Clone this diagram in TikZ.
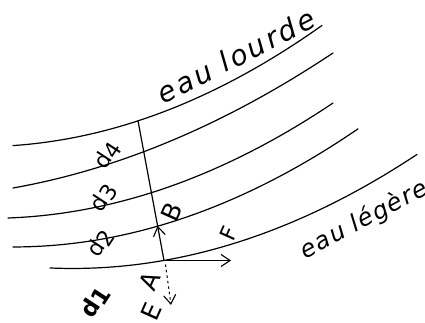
\documentclass[tikz,border=0pt]{standalone}
\usepackage{fontspec}
\setmainfont{DejaVu Sans}
\usetikzlibrary{arrows.meta}
\tikzset{
  layer/.style={line width=1.2pt, line cap=round},
  lbl/.style={font=\fontsize{28}{28}\selectfont\addfontfeatures{LetterSpace=10}, inner sep=0pt},
  dlbl/.style={font=\fontsize{22}{22}\selectfont, inner sep=0pt, rotate=57},
  plbl/.style={font=\fontsize{25}{25}\selectfont, inner sep=0pt, rotate=66},
  vtip/.style={-{Straight Barb[length=9pt,width=12pt,line width=1.1pt]}},
}
\newcommand{\dsub}[1]{d\kern0.5pt\raisebox{-2.5pt}{#1}}
\begin{document}
\begin{tikzpicture}[x=1pt,y=-1pt]
\useasboundingbox (0,0) rectangle (425,323);
% layers (parabolic arcs)
\draw[layer] plot[domain=13:322,samples=80] (\x,{146.3-0.0412*\x-0.001042*\x*\x});
\draw[layer] plot[domain=13:333,samples=80] (\x,{190.18-0.15792*\x-0.000763*\x*\x});
\draw[layer] plot[domain=8:333,samples=80] (\x,{218.23-0.0208*\x-0.000977*\x*\x});
\draw[layer] plot[domain=13:358,samples=80] (\x,{246.8+0.0256*\x-0.000999*\x*\x});
\draw[layer] plot[domain=50:417,samples=80] (\x,{263.4+0.1395*\x-0.000958*\x*\x});
% points
\coordinate (top) at (138,120.8);
\coordinate (B) at (157.6,225.9);
\coordinate (A) at (164,260.5);
\coordinate (Fend) at (231,260.5);
\coordinate (Estart) at (165.5,264.5);
\coordinate (Eend) at (171,305);
\draw[layer] (top) -- (B);
\draw[layer,vtip] (A) -- (B);
\draw[layer,vtip] (A) -- (Fend);
\draw[line width=1pt,dash pattern=on 2.5pt off 3pt,vtip] (Estart) -- (Eend);
% labels
\node[lbl,rotate=27] (lourde) at (236,56) {\itshape eau lourde};
\node[lbl,font=\fontsize{24}{24}\selectfont\addfontfeatures{LetterSpace=6},rotate=28] (legere) at (364,220) {\itshape eau légère};
\node[dlbl] (d4) at (107,155) {\dsub{4}};
\node[dlbl] (d3) at (103,198) {\dsub{3}};
\node[dlbl] (d2) at (100,243) {\dsub{2}};
\node[dlbl,font=\bfseries\fontsize{23}{23}\selectfont] (d1) at (95,302) {\dsub{1}};
\node[plbl] (Bl) at (172,212) {B};
\node[plbl] (Al) at (150,281) {A};
\node[plbl] (El) at (151,312) {E};
\node[plbl,font=\fontsize{22}{22}\selectfont] (Fl) at (229,233) {F};
\end{tikzpicture}
\end{document}
